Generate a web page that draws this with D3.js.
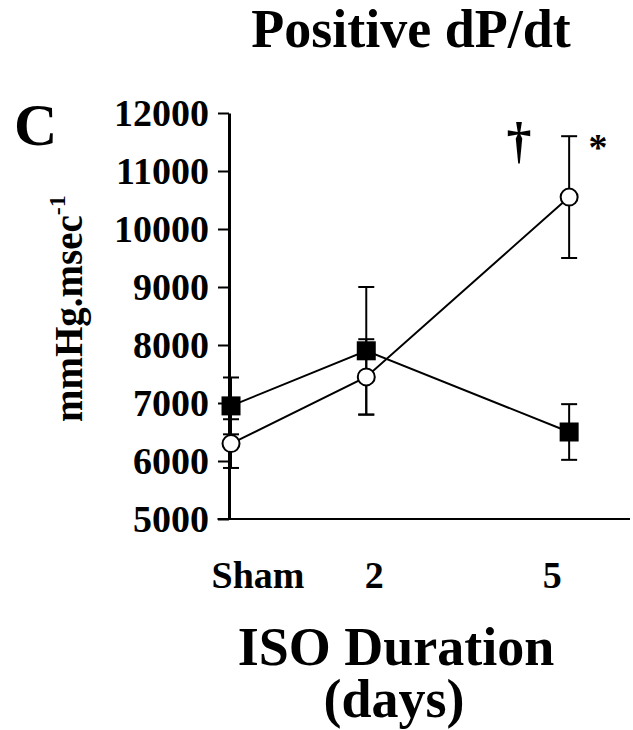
<!DOCTYPE html>
<html>
<head>
<meta charset="utf-8">
<script src="https://cdn.jsdelivr.net/npm/d3@7"></script>
<style>
  html, body { margin: 0; padding: 0; background: #fff; }
  svg { display: block; }
  text { font-family: "Liberation Serif", "Times New Roman", serif; font-weight: bold; fill: #000; }
</style>
</head>
<body>
<div id="chart"></div>
<script>
// ---- data ----
const categories = ["Sham", "2", "5"];
const days = [0, 2, 5];
const openValues = [6300, 7450, 10550];   // open circles
const openErrors = [420, 650, 1050];
const filledValues = [6950, 7900, 6500];  // filled squares
const filledErrors = [490, 1100, 480];
const yTicks = [5000, 6000, 7000, 8000, 9000, 10000, 11000, 12000];

// ---- layout ----
const W = 633, H = 730;
const svg = d3.select("#chart").append("svg").attr("width", W).attr("height", H);

const x = d3.scaleLinear().domain([-0.2, 5.9]).range([217.5, 630]);
const y = d3.scaleLinear().domain([5000, 12000]).range([519, 113]);
const axisX = 229;

// Y axis
const yAxis = d3.axisLeft(y).tickValues(yTicks).tickSize(11).tickSizeOuter(0).tickPadding(9)
  .tickFormat(d3.format("d"));
const gy = svg.append("g").attr("transform", `translate(${axisX},0)`).call(yAxis);
gy.select(".domain").attr("stroke", "#000").attr("stroke-width", 3);
gy.selectAll(".tick line").attr("stroke", "#000").attr("stroke-width", 2);
gy.selectAll(".tick text").attr("font-size", 38).attr("font-family", "Liberation Serif")
  .attr("font-weight", "bold").attr("fill", "#000");

// X axis line (no ticks)
svg.append("line")
  .attr("x1", x.range()[0]).attr("x2", x.range()[1])
  .attr("y1", y(5000)).attr("y2", y(5000))
  .attr("stroke", "#000").attr("stroke-width", 2);

// X category labels
const labelShift = [27, 8, -17];
svg.append("g").selectAll("text").data(categories).join("text")
  .attr("x", (d, i) => x(days[i]) + labelShift[i])
  .attr("y", 588)
  .attr("text-anchor", "middle")
  .attr("font-size", 38)
  .text(d => d);

// Series
const openData = days.map((d, i) => ({ d, v: openValues[i], e: openErrors[i] }));
const filledData = days.map((d, i) => ({ d, v: filledValues[i], e: filledErrors[i] }));

function errorBars(data) {
  const g = svg.append("g").attr("stroke", "#000").attr("stroke-width", 2);
  data.forEach(p => {
    const cx = x(p.d);
    g.append("line").attr("x1", cx).attr("x2", cx).attr("y1", y(p.v + p.e)).attr("y2", y(p.v - p.e));
    g.append("line").attr("x1", cx - 8).attr("x2", cx + 8).attr("y1", y(p.v + p.e)).attr("y2", y(p.v + p.e));
    g.append("line").attr("x1", cx - 8).attr("x2", cx + 8).attr("y1", y(p.v - p.e)).attr("y2", y(p.v - p.e));
  });
}
errorBars(filledData);
errorBars(openData);

const line = d3.line().x(p => x(p.d)).y(p => y(p.v));
svg.append("path").datum(filledData).attr("d", line)
  .attr("fill", "none").attr("stroke", "#000").attr("stroke-width", 2);
svg.append("path").datum(openData).attr("d", line)
  .attr("fill", "none").attr("stroke", "#000").attr("stroke-width", 2);

// markers
const sq = 19;
svg.append("g").selectAll("rect").data(filledData).join("rect")
  .attr("x", p => x(p.d) - sq / 2).attr("y", p => y(p.v) - sq / 2)
  .attr("width", sq).attr("height", sq).attr("fill", "#000");
svg.append("g").selectAll("circle").data(openData).join("circle")
  .attr("cx", p => x(p.d)).attr("cy", p => y(p.v)).attr("r", 8.5)
  .attr("fill", "#fff").attr("stroke", "#000").attr("stroke-width", 2);

// significance marks
svg.append("text").attr("x", 519).attr("y", 157).attr("text-anchor", "middle")
  .attr("font-size", 50).attr("font-weight", "normal").text("\u2020");
svg.append("text").attr("x", 598).attr("y", 160).attr("text-anchor", "middle")
  .attr("font-size", 38).text("*");

// Titles
svg.append("text").attr("x", 411).attr("y", 47).attr("text-anchor", "middle")
  .attr("font-size", 54).text("Positive dP/dt");
svg.append("text").attr("x", 14).attr("y", 145).attr("font-size", 60).text("C");
const xt = svg.append("text").attr("text-anchor", "middle").attr("font-size", 54);
xt.append("tspan").attr("x", 396).attr("y", 665).text("ISO Duration");
xt.append("tspan").attr("x", 394).attr("y", 717).text("(days)");

// Y label
const yl = svg.append("text").attr("transform", "translate(82,422) rotate(-90)")
  .attr("font-size", 39);
yl.append("tspan").text("mmHg.msec");
yl.append("tspan").attr("font-size", 24).attr("dy", -17).text("-1");
</script>
</body>
</html>
